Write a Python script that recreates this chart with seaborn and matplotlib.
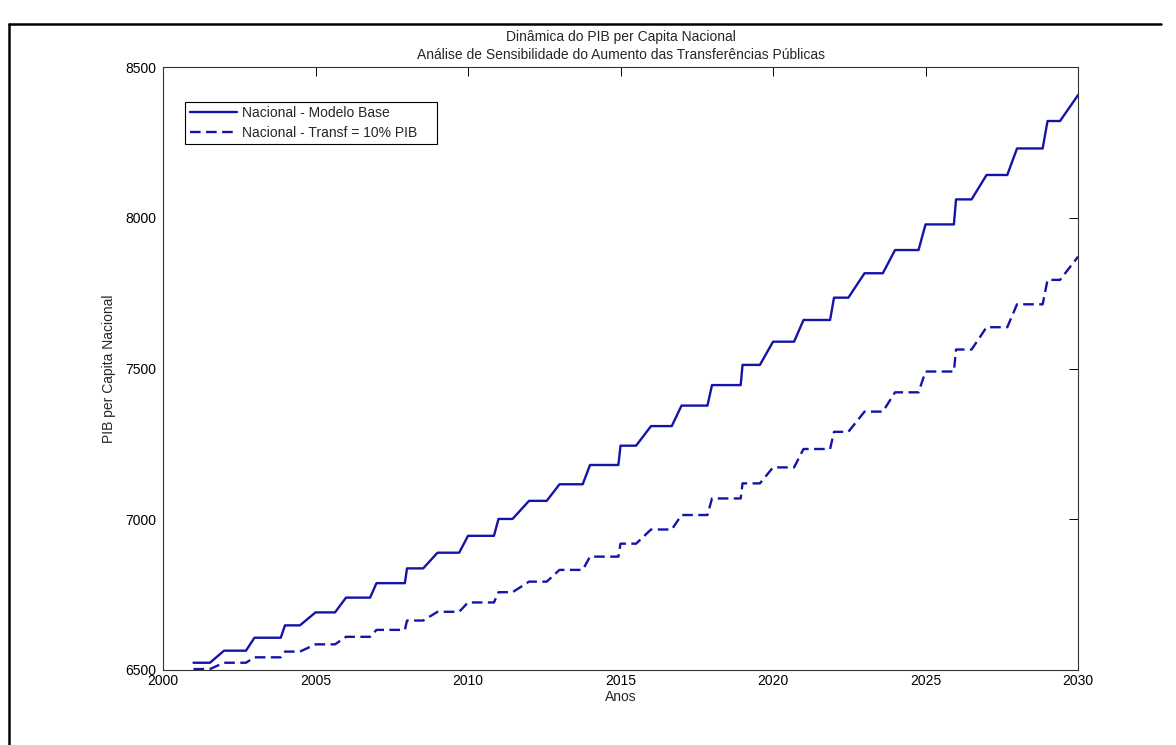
import numpy as np
import pandas as pd
import matplotlib.pyplot as plt
from matplotlib.lines import Line2D
import seaborn as sns

sns.set_style('white')
plt.rcParams['font.family'] = ['Liberation Sans', 'DejaVu Sans']

# plateau start years, value held on each plateau, and where in the year the plateau ends
anos = list(range(2001, 2030))
fim_patamar = [0.54, 0.72, 0.86, 0.49, 0.64, 0.79, 0.93, 0.53, 0.71, 0.85,
               0.46, 0.58, 0.76, 0.93, 0.51, 0.68, 0.85, 0.94, 0.57, 0.69,
               0.87, 0.47, 0.60, 0.77, 0.93, 0.51, 0.68, 0.84, 0.41]
base = [6524, 6564, 6607, 6648, 6691, 6740, 6788, 6837, 6889, 6945,
        7001, 7061, 7116, 7180, 7244, 7309, 7377, 7445, 7512, 7589,
        7661, 7735, 7816, 7893, 7978, 8061, 8142, 8230, 8321]
transf = [6503, 6524, 6542, 6561, 6585, 6610, 6633, 6664, 6693, 6724,
          6758, 6793, 6832, 6876, 6919, 6966, 7014, 7069, 7119, 7172,
          7233, 7290, 7357, 7421, 7490, 7563, 7637, 7713, 7794]
ano_final = 2030
base_final = 8407
transf_final = 7871

serie_base = 'Nacional - Modelo Base'
serie_transf = 'Nacional - Transf = 10% PIB'

rows = []
for nome, vals, vfim in [(serie_base, base, base_final), (serie_transf, transf, transf_final)]:
    for a, f, v in zip(anos, fim_patamar, vals):
        rows.append((nome, a, v))
        rows.append((nome, a + f, v))
    rows.append((nome, ano_final, vfim))
df = pd.DataFrame(rows, columns=['Serie', 'Ano', 'PIB'])

azul = '#1414a8'
fs = 10
fig, ax = plt.subplots(figsize=(11.76, 7.45), dpi=100)
fig.subplots_adjust(left=0.1386, right=0.9167, bottom=0.1007, top=0.910)

sns.lineplot(data=df, x='Ano', y='PIB', hue='Serie', style='Serie',
             palette={serie_base: azul, serie_transf: azul},
             dashes={serie_base: '', serie_transf: (4.5, 2.3)},
             estimator=None, sort=False, linewidth=1.7, ax=ax)

ax.set_xlim(2000, 2030)
ax.set_ylim(6500, 8500)
ax.set_xticks(range(2000, 2031, 5))
ax.set_yticks(range(6500, 8501, 500))
ax.tick_params(direction='in', length=6.7, width=0.7, top=True, right=True,
               labelsize=fs, colors='#000000')
ax.tick_params(axis='y', pad=4.5)
ax.tick_params(axis='x', pad=3.0)
for s in ax.spines.values():
    s.set_color('#333333')
    s.set_linewidth(0.8)

ax.set_xlabel('Anos', fontsize=fs, labelpad=1)
ax.set_ylabel('PIB per Capita Nacional', fontsize=fs, labelpad=7)
ax.set_title('Dinâmica do PIB per Capita Nacional\n'
             'Análise de Sensibilidade do Aumento das Transferências Públicas',
             fontsize=fs, pad=6, linespacing=1.3)

handles, labels = ax.get_legend_handles_labels()
leg = ax.legend(handles=handles, labels=labels, loc='upper left',
                bbox_to_anchor=(0.024, 0.8645, 0.2754, 0.078), mode='expand',
                borderaxespad=0, fontsize=fs, handlelength=3.4,
                handletextpad=0.35, labelspacing=0.4, borderpad=0.33,
                fancybox=False, framealpha=1, edgecolor='#000000', title=None)
leg.get_frame().set_linewidth(0.8)

# page border around the figure
fig.add_artist(Line2D([0.008, 0.008], [0.0, 0.968], transform=fig.transFigure,
                      color='black', linewidth=1.8))
fig.add_artist(Line2D([0.008, 0.987], [0.968, 0.968], transform=fig.transFigure,
                      color='black', linewidth=1.8))

fig.savefig('out.png', dpi=100)
